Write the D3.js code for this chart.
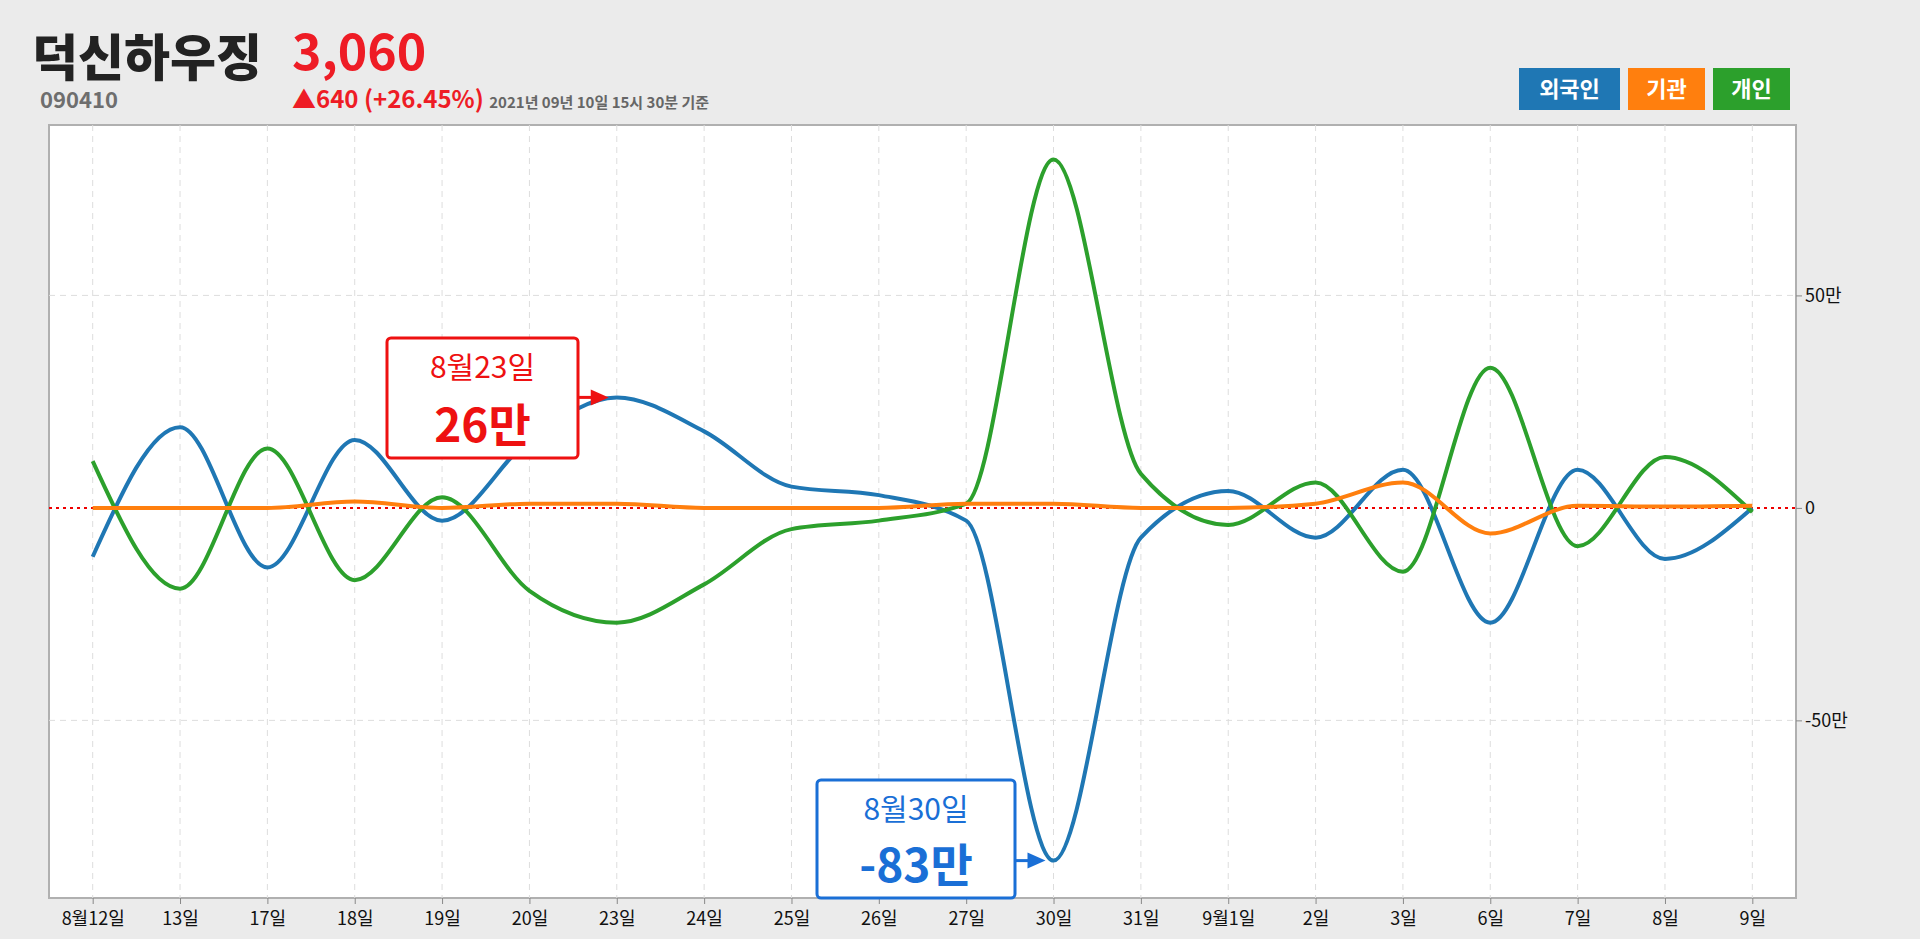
<!DOCTYPE html>
<html><head><meta charset="utf-8">
<script src="https://cdn.jsdelivr.net/npm/d3@7"></script>
<style>body{margin:0;background:#ebebeb;font-family:"Noto Sans CJK KR","Noto Sans",sans-serif;}</style>
</head><body><svg id="c" width="1920" height="939"></svg>
<script>
const categories=["8월12일","13일","17일","18일","19일","20일","23일","24일","25일","26일","27일","30일","31일","9월1일","2일","3일","6일","7일","8일","9일"];
const foreign=[-11.5,19,-14,16,-3,16,26,18,5,3,-3,-83,-7,4,-7,9,-27,9,-12,0];
const institution=[0,0,0,1.5,0,1,1,0,0,0,1,1,0,0,1,6,-6,0.5,0.3,0.5];
const individual=[11,-19,14,-17,2.5,-19.5,-27,-18,-5,-3,1,82,8,-4,6,-15,33,-9,12,-1];
const yTicks=[50,0,-50];
const seriesNames=["외국인","기관","개인"];
const colors=["#1f77b4","#ff7f0e","#2ca02c"];

const svg=d3.select("#c");
const L=49,R=1796,T=125,B=898;
const x=d3.scalePoint().domain(categories).range([L,R]).padding(0.5);
const y=d3.scaleLinear().domain([-91.8,90.1]).range([B,T]);

svg.append("rect").attr("x",L).attr("y",T).attr("width",R-L).attr("height",B-T).attr("fill","#fff").attr("stroke","#b0b0b0").attr("stroke-width",2);
categories.forEach(c=>svg.append("line").attr("x1",x(c)).attr("x2",x(c)).attr("y1",T).attr("y2",B).attr("stroke","#ddd").attr("stroke-dasharray","6,5"));
yTicks.filter(v=>v!==0).forEach(v=>svg.append("line").attr("x1",L).attr("x2",R).attr("y1",y(v)).attr("y2",y(v)).attr("stroke","#ddd").attr("stroke-dasharray","6,5"));
svg.append("line").attr("x1",L).attr("x2",R).attr("y1",y(0)).attr("y2",y(0)).attr("stroke","#e00").attr("stroke-width",2).attr("stroke-dasharray","3,4");

const ax=svg.append("g").attr("transform",`translate(${R},0)`).call(d3.axisRight(y).tickValues(yTicks).tickSize(6).tickFormat(v=>v===0?"0":v+"만"));
ax.select(".domain").remove();
ax.selectAll("line").attr("stroke","#888");
ax.selectAll("text").attr("font-size",18).attr("fill","#111").attr("font-family","Noto Sans CJK KR");
const bx=svg.append("g").attr("transform",`translate(0,${B})`).call(d3.axisBottom(x).tickSize(6));
bx.select(".domain").remove();
bx.selectAll("line").attr("stroke","#888");
bx.selectAll("text").attr("font-size",18).attr("fill","#111").attr("dy","1em").attr("font-family","Noto Sans CJK KR");

const line=d3.line().x((d,i)=>x(categories[i])).y(d=>y(d)).curve(d3.curveMonotoneX);
[[foreign,0],[individual,2],[institution,1]].forEach(([s,i])=>svg.append("path").attr("d",line(s)).attr("fill","none").attr("stroke",colors[i]).attr("stroke-width",4));

function ann(idx,val,color,label,valText,bx0,by0,bw,bh){
  const px=x(categories[idx]),py=y(val);
  svg.append("rect").attr("x",bx0).attr("y",by0).attr("width",bw).attr("height",bh).attr("rx",4).attr("fill","#fff").attr("stroke",color).attr("stroke-width",3);
  svg.append("text").attr("x",bx0+bw/2).attr("y",by0+40).attr("text-anchor","middle").attr("font-size",30).attr("fill",color).text(label);
  svg.append("text").attr("x",bx0+bw/2).attr("y",by0+bh-16).attr("text-anchor","middle").attr("font-size",46).attr("font-weight","bold").attr("fill",color).text(valText);
  const sy=Math.min(Math.max(py,by0+10),by0+bh-10);
  svg.append("line").attr("x1",bx0+bw).attr("y1",sy).attr("x2",px-24).attr("y2",py).attr("stroke",color).attr("stroke-width",3);
  svg.append("path").attr("d","M0,-8L18,0L0,8Z").attr("fill",color).attr("transform",`translate(${px-26},${py})`);
}
ann(6,foreign[6],"#ee1111","8월23일","26만",387,338,191,120);
ann(11,foreign[11],"#1a6fd6","8월30일","-83만",817,780,198,118);

svg.append("text").attr("x",32).attr("y",76).attr("font-size",50).attr("font-weight",900).attr("fill","#222").text("덕신하우징");
svg.append("text").attr("x",292).attr("y",70).attr("font-size",50).attr("font-weight",700).attr("fill","#ee1c25").text("3,060");
svg.append("text").attr("x",40).attr("y",108).attr("font-size",22).attr("font-weight",700).attr("fill","#6e6e6e").text("090410");
const ch=svg.append("text").attr("x",292).attr("y",108).attr("font-weight",700);
ch.append("tspan").attr("font-size",24).attr("fill","#ee1c25").text("▲640 (+26.45%) ");
ch.append("tspan").attr("font-size",15).attr("fill","#666").text("2021년 09년 10일 15시 30분 기준");

const lg=[[1519,101],[1628,77],[1713,77]];
seriesNames.forEach((n,i)=>{
  svg.append("rect").attr("x",lg[i][0]).attr("y",68).attr("width",lg[i][1]).attr("height",42).attr("fill",colors[i]);
  svg.append("text").attr("x",lg[i][0]+lg[i][1]/2).attr("y",97).attr("text-anchor","middle").attr("font-size",22).attr("font-weight",700).attr("fill","#fff").text(n);
});
</script></body></html>
